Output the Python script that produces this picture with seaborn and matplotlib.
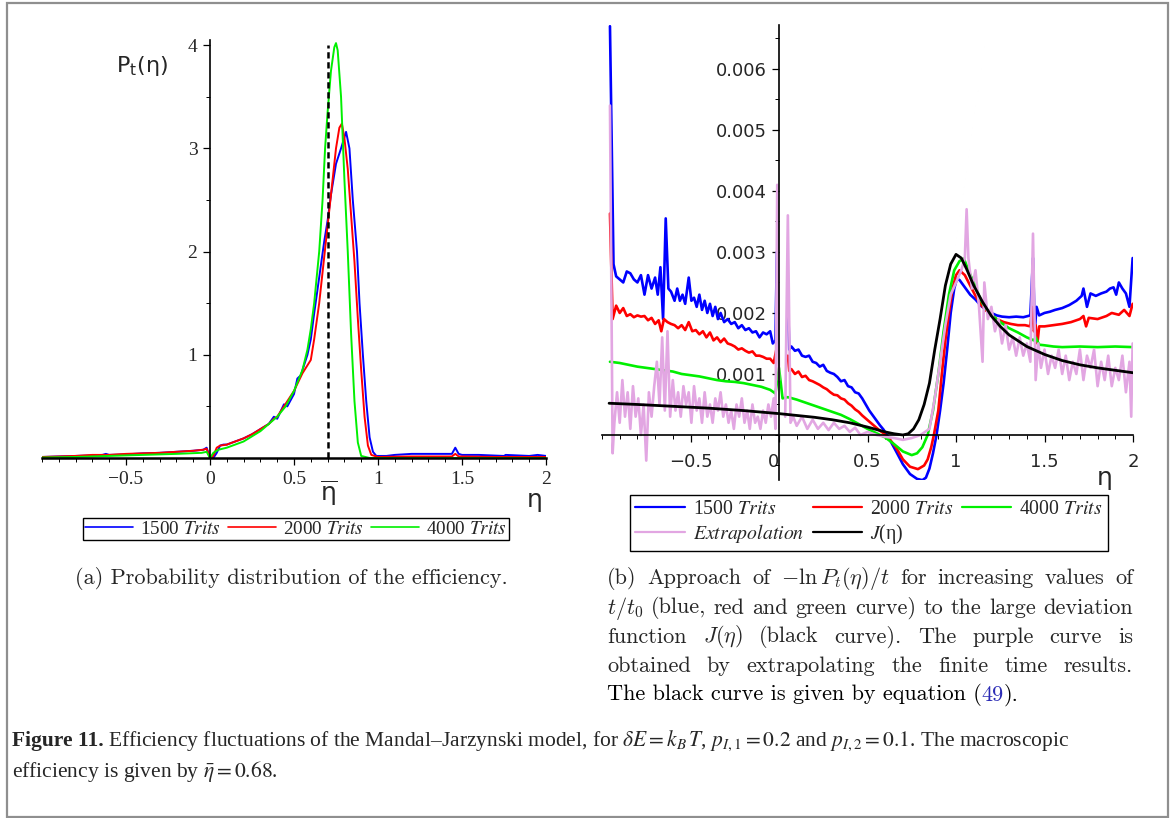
import numpy as np
import matplotlib
matplotlib.use("Agg")
import matplotlib.pyplot as plt
from matplotlib.lines import Line2D
from matplotlib.patches import Rectangle
from matplotlib.ticker import MultipleLocator
import seaborn as sns

# ---------------- data ----------------
eta_bar = 0.7          # dashed line position in panel (a)
eta_bar_top = 4.0

# panel (a): P_t(eta)
pa_blue_x = [-1.0, -0.9, -0.8, -0.7, -0.64, -0.62, -0.6, -0.5, -0.45, -0.4, -0.3, -0.2, -0.1,
             -0.04, -0.02, 0.0, 0.02, 0.04, 0.06, 0.08, 0.1, 0.15, 0.2, 0.25, 0.3, 0.35, 0.38,
             0.4, 0.42, 0.44, 0.46, 0.5, 0.52, 0.54, 0.56, 0.58, 0.6, 0.62, 0.65, 0.68, 0.7,
             0.72, 0.75, 0.78, 0.81, 0.83, 0.85, 0.875, 0.89, 0.91, 0.93, 0.95, 0.97, 0.99,
             1.05, 1.1, 1.2, 1.3, 1.44, 1.46, 1.48, 1.5, 1.6, 1.75, 1.76, 1.9, 1.95, 2.0]
pa_blue_y = [0.01, 0.015, 0.02, 0.025, 0.03, 0.04, 0.03, 0.035, 0.04, 0.045, 0.05, 0.06, 0.07,
             0.08, 0.1, 0.0, 0.0, 0.05, 0.12, 0.13, 0.13, 0.16, 0.19, 0.23, 0.28, 0.33, 0.4,
             0.38, 0.45, 0.52, 0.5, 0.62, 0.77, 0.8, 0.9, 1.0, 1.15, 1.4, 1.75, 2.1, 2.3,
             2.55, 2.85, 3.0, 3.16, 3.0, 2.5, 2.0, 1.5, 1.0, 0.55, 0.2, 0.06, 0.02,
             0.02, 0.03, 0.04, 0.04, 0.04, 0.1, 0.04, 0.03, 0.03, 0.02, 0.03, 0.02, 0.03, 0.02]

pa_red_x = [-1.0, -0.9, -0.8, -0.7, -0.6, -0.5, -0.4, -0.3, -0.2, -0.1, -0.04, -0.02, 0.0, 0.02,
            0.04, 0.06, 0.1, 0.15, 0.2, 0.25, 0.3, 0.35, 0.38, 0.4, 0.44, 0.5, 0.55, 0.6, 0.62,
            0.65, 0.68, 0.7, 0.73, 0.75, 0.77, 0.785, 0.8, 0.82, 0.84, 0.86, 0.88, 0.9, 0.92,
            0.94, 0.96, 1.0, 1.2, 1.44, 1.46, 1.48, 1.7, 2.0]
pa_red_y = [0.01, 0.015, 0.02, 0.03, 0.03, 0.04, 0.045, 0.05, 0.06, 0.07, 0.08, 0.09, 0.0, 0.02,
            0.1, 0.12, 0.13, 0.16, 0.19, 0.23, 0.28, 0.33, 0.38, 0.4, 0.5, 0.65, 0.82, 0.95, 1.15,
            1.5, 1.95, 2.25, 2.7, 3.0, 3.2, 3.24, 3.1, 2.8, 2.35, 1.9, 1.35, 0.85, 0.4,
            0.12, 0.03, 0.01, 0.015, 0.015, 0.04, 0.015, 0.01, 0.01]

pa_green_x = [-1.0, -0.8, -0.6, -0.4, -0.2, -0.05, -0.02, 0.0, 0.02, 0.05, 0.1, 0.2, 0.3, 0.4,
              0.45, 0.5, 0.55, 0.58, 0.6, 0.62, 0.65, 0.67, 0.685, 0.7, 0.72, 0.74, 0.75, 0.76,
              0.78, 0.8, 0.82, 0.84, 0.86, 0.88, 0.9, 0.95, 2.0]
pa_green_y = [0.005, 0.01, 0.02, 0.03, 0.04, 0.05, 0.06, 0.0, 0.05, 0.08, 0.1, 0.16, 0.26, 0.4,
              0.5, 0.65, 0.85, 1.05, 1.25, 1.5, 2.0, 2.5, 3.0, 3.35, 3.75, 3.98, 4.02, 3.95,
              3.5, 2.7, 2.0, 1.2, 0.55, 0.15, 0.02, 0.0, 0.0]

# panel (b): -ln P_t(eta)/t
pb_blue_x = [-0.955, -0.935, -0.92, -0.90, -0.88, -0.86, -0.84, -0.82, -0.80, -0.78,
             -0.76, -0.74, -0.72, -0.70, -0.685, -0.67, -0.655, -0.64, -0.625, -0.61,
             -0.59, -0.575, -0.56, -0.545, -0.53, -0.51, -0.495, -0.48, -0.465, -0.45,
             -0.435, -0.42, -0.405, -0.39, -0.375, -0.36, -0.345, -0.33, -0.31, -0.29,
             -0.27, -0.25, -0.23, -0.21, -0.19, -0.17, -0.15, -0.13, -0.11, -0.09,
             -0.07, -0.05, -0.035, -0.02, -0.012, 0.048, 0.058, 0.07, 0.09, 0.11,
             0.13, 0.15, 0.17, 0.19, 0.21, 0.23, 0.25, 0.27, 0.29, 0.31,
             0.33, 0.35, 0.37, 0.39, 0.41, 0.43, 0.45, 0.47, 0.49, 0.51,
             0.53, 0.55, 0.57, 0.59, 0.61, 0.63, 0.66, 0.70, 0.74, 0.78,
             0.81, 0.83, 0.85, 0.87, 0.89, 0.91, 0.93, 0.95, 0.97, 0.99,
             1.005, 1.02, 1.05, 1.08, 1.11, 1.14, 1.17, 1.20, 1.23, 1.26,
             1.30, 1.34, 1.38, 1.42, 1.435, 1.445, 1.455, 1.47, 1.50, 1.53,
             1.56, 1.60, 1.64, 1.68, 1.71, 1.72, 1.74, 1.76, 1.79, 1.82,
             1.85, 1.87, 1.89, 1.905, 1.92, 1.94, 1.96, 1.98, 1.998]
pb_blue_y = [0.0067, 0.0028, 0.0026, 0.00255, 0.0025, 0.00268, 0.00265, 0.00255, 0.0025, 0.00262,
             0.0023, 0.00262, 0.0024, 0.00258, 0.0023, 0.00275, 0.0019, 0.00355, 0.0024, 0.00235,
             0.0022, 0.0024, 0.0022, 0.0023, 0.00215, 0.00258, 0.0022, 0.00225, 0.0021, 0.0023,
             0.00205, 0.0022, 0.002, 0.00215, 0.00195, 0.0021, 0.0019, 0.002, 0.00185, 0.0019,
             0.00182, 0.00185, 0.00175, 0.0018, 0.00172, 0.00175, 0.00168, 0.0017, 0.0016, 0.00168,
             0.00165, 0.0017, 0.0015, 0.00155, 0.003, 0.0026, 0.0014, 0.00145, 0.00138, 0.0014,
             0.0013, 0.00128, 0.0013, 0.0012, 0.00118, 0.00112, 0.00115, 0.00105, 0.00102, 0.001,
             0.00095, 0.00088, 0.0009, 0.0008, 0.00078, 0.0007, 0.00068, 0.0006, 0.0005, 0.0004,
             0.00032, 0.00024, 0.00016, 0.00009, 0.0, -0.0001, -0.00026, -0.00048, -0.00064, -0.00072,
             -0.00074, -0.0007, -0.00055, -0.0003, 0.0, 0.0004, 0.00085, 0.0014, 0.002, 0.0024,
             0.00256, 0.00254, 0.00242, 0.0023, 0.00222, 0.00212, 0.00205, 0.002, 0.00196, 0.00194,
             0.00193, 0.00194, 0.00193, 0.00196, 0.0029, 0.0017, 0.0021, 0.00196, 0.002, 0.00202,
             0.00205, 0.00208, 0.00213, 0.0022, 0.00228, 0.0024, 0.0021, 0.00232, 0.00228, 0.00232,
             0.00235, 0.0024, 0.00242, 0.0023, 0.0025, 0.0024, 0.00232, 0.0021, 0.0029]

pb_red_x = [-0.955, -0.94, -0.92, -0.90, -0.88, -0.86, -0.84, -0.82, -0.80, -0.78,
            -0.76, -0.74, -0.72, -0.70, -0.68, -0.665, -0.65, -0.63, -0.61, -0.59,
            -0.57, -0.55, -0.53, -0.51, -0.49, -0.47, -0.45, -0.43, -0.41, -0.39,
            -0.37, -0.35, -0.33, -0.31, -0.29, -0.27, -0.25, -0.23, -0.21, -0.19,
            -0.17, -0.15, -0.13, -0.11, -0.09, -0.07, -0.05, -0.03, -0.015, 0.05,
            0.058, 0.07, 0.09, 0.11, 0.13, 0.15, 0.17, 0.19, 0.21, 0.23,
            0.25, 0.27, 0.29, 0.31, 0.33, 0.35, 0.37, 0.39, 0.41, 0.43,
            0.45, 0.47, 0.49, 0.51, 0.53, 0.55, 0.57, 0.59, 0.62, 0.66,
            0.70, 0.74, 0.785, 0.82, 0.84, 0.86, 0.875, 0.90, 0.92, 0.94,
            0.96, 0.98, 1.0, 1.02, 1.05, 1.08, 1.11, 1.14, 1.17, 1.20,
            1.23, 1.27, 1.31, 1.35, 1.39, 1.42, 1.43, 1.44, 1.45, 1.46,
            1.47, 1.50, 1.55, 1.60, 1.65, 1.70, 1.72, 1.735, 1.75, 1.80,
            1.85, 1.88, 1.92, 1.95, 1.98, 1.998]
pb_red_y = [0.00363, 0.0019, 0.00212, 0.002, 0.00208, 0.00195, 0.00198, 0.00193, 0.00196, 0.00194,
            0.00195, 0.00188, 0.00192, 0.00182, 0.00188, 0.0017, 0.0019, 0.00185, 0.00182, 0.0018,
            0.00175, 0.0018, 0.00172, 0.00185, 0.0017, 0.00172, 0.00165, 0.0017, 0.0016, 0.00168,
            0.00155, 0.0016, 0.00152, 0.00158, 0.0015, 0.00148, 0.00145, 0.0014, 0.00142, 0.00138,
            0.00135, 0.00137, 0.0013, 0.0013, 0.00128, 0.00125, 0.00125, 0.00118, 0.0014, 0.0013,
            0.00105, 0.00108, 0.001, 0.00104, 0.00095, 0.00097, 0.0009, 0.00088, 0.00085, 0.00082,
            0.00078, 0.00075, 0.0007, 0.00066, 0.00065, 0.0006, 0.00058, 0.00052, 0.00048, 0.00042,
            0.00038, 0.00032, 0.00027, 0.00022, 0.00017, 0.00012, 0.00007, 0.00003, -0.00005, -0.0002,
            -0.0004, -0.00052, -0.00056, -0.0005, -0.0004, -0.0002, 0.0, 0.0004, 0.001, 0.00155,
            0.002, 0.0024, 0.00262, 0.0027, 0.00262, 0.00245, 0.00228, 0.00214, 0.00204, 0.00196,
            0.0019, 0.00185, 0.00182, 0.0018, 0.0018, 0.00178, 0.0021, 0.0017, 0.0018, 0.0015,
            0.00178, 0.00178, 0.0018, 0.00182, 0.00185, 0.0019, 0.00195, 0.00178, 0.00192, 0.0019,
            0.00195, 0.002, 0.00197, 0.00205, 0.00195, 0.00215]

pb_green_x = [-0.955, -0.9, -0.85, -0.8, -0.75, -0.7, -0.65, -0.6, -0.55, -0.5,
              -0.45, -0.4, -0.35, -0.3, -0.25, -0.2, -0.15, -0.1, -0.05, -0.02,
              0.0, 0.02, 0.05, 0.1, 0.15, 0.2, 0.25, 0.3, 0.35, 0.4,
              0.45, 0.5, 0.55, 0.6, 0.65, 0.7, 0.75, 0.78, 0.81, 0.84,
              0.87, 0.9, 0.93, 0.96, 0.99, 1.02, 1.045, 1.07, 1.1, 1.13,
              1.16, 1.2, 1.25, 1.3, 1.35, 1.4, 1.44, 1.45, 1.47, 1.5,
              1.55, 1.6, 1.7, 1.8, 1.9, 2.0]
pb_green_y = [0.0012, 0.00118, 0.00115, 0.00112, 0.0011, 0.00108, 0.00106, 0.00104, 0.001, 0.00098,
              0.00096, 0.00093, 0.0009, 0.00088, 0.00087, 0.00085, 0.00082, 0.00079, 0.00074, 0.00068,
              0.0011, 0.0006, 0.00062, 0.00058, 0.00053, 0.00048, 0.00043, 0.00038, 0.00033, 0.00026,
              0.00018, 0.0001, 0.00003, -0.00004, -0.00015, -0.00027, -0.00033, -0.0003, -0.0002, 0.0,
              0.0004, 0.001, 0.0017, 0.0023, 0.0027, 0.00285, 0.00289, 0.0027, 0.0025, 0.00228,
              0.0021, 0.00197, 0.00185, 0.00175, 0.00168, 0.0016, 0.00155, 0.0016, 0.00148, 0.00147,
              0.00145, 0.00144, 0.00145, 0.00144, 0.00145, 0.00144]

pb_extra_x = [-0.955, -0.94, -0.93, -0.915, -0.9, -0.885, -0.87, -0.855, -0.84, -0.825,
              -0.81, -0.795, -0.78, -0.765, -0.75, -0.735, -0.72, -0.705, -0.69, -0.675,
              -0.66, -0.645, -0.63, -0.615, -0.6, -0.585, -0.57, -0.555, -0.54, -0.525,
              -0.51, -0.495, -0.48, -0.465, -0.45, -0.435, -0.42, -0.405, -0.39, -0.375,
              -0.36, -0.345, -0.33, -0.315, -0.3, -0.285, -0.27, -0.255, -0.24, -0.225,
              -0.21, -0.195, -0.18, -0.165, -0.15, -0.135, -0.12, -0.105, -0.09, -0.075,
              -0.06, -0.045, -0.03, -0.02, -0.01, 0.0, 0.035, 0.05, 0.065, 0.08,
              0.1, 0.13, 0.16, 0.19, 0.22, 0.25, 0.28, 0.31, 0.34, 0.37,
              0.4, 0.43, 0.46, 0.5, 0.55, 0.6, 0.65, 0.7, 0.75, 0.8,
              0.85, 0.88, 0.91, 0.94, 0.97, 1.0, 1.03, 1.05, 1.06, 1.07,
              1.09, 1.11, 1.13, 1.15, 1.16, 1.18, 1.2, 1.22, 1.24, 1.26,
              1.28, 1.3, 1.32, 1.34, 1.36, 1.38, 1.4, 1.42, 1.435, 1.45,
              1.465, 1.48, 1.5, 1.52, 1.54, 1.56, 1.58, 1.6, 1.62, 1.64,
              1.66, 1.68, 1.7, 1.72, 1.74, 1.76, 1.78, 1.8, 1.82, 1.84,
              1.86, 1.88, 1.9, 1.92, 1.94, 1.96, 1.98, 1.99, 1.998]
pb_extra_y = [0.0054, -0.0003, 0.0002, 0.0007, 0.0002, 0.0009, 0.0003, 0.0007, 0.0001, 0.0008,
              0.0003, 0.0006, 0.0, 0.0005, -0.00042, 0.0007, 0.0003, 0.0008, 0.0012, 0.0005,
              0.0016, 0.0004, 0.0017, 0.0003, 0.0009, 0.0004, 0.0007, 0.0003, 0.0008, 0.0005,
              0.0007, 0.0002, 0.0008, 0.0004, 0.0006, 0.0002, 0.0007, 0.0003, 0.0005, 0.0002,
              0.0006, 0.0004, 0.0007, 0.0003, 0.0005, 0.0002, 0.0004, 0.0001, 0.0005, 0.0003,
              0.0006, 0.0002, 0.0004, 0.0001, 0.0005, 0.0002, 0.0003, 0.0001, 0.0004, 0.0002,
              0.0005, 0.0003, 0.0006, 0.0001, 0.0041, 0.0009, 0.0003, 0.0036, 0.0002, 0.0003,
              0.00015, 0.0003, 0.0001, 0.00025, 0.0001, 0.0002, 0.00008, 0.0002, 0.0001, 0.00015,
              0.00005, 0.00012, 0.0, 0.00005, 0.0, -0.00003, -0.00005, -0.00008, -0.00005, 0.0,
              0.0001, 0.0006, 0.0012, 0.0018, 0.0023, 0.0025, 0.0027, 0.0029, 0.0037, 0.0029,
              0.0024, 0.0027, 0.0021, 0.0012, 0.0025, 0.0019, 0.0021, 0.0017, 0.0019, 0.0015,
              0.0018, 0.0014, 0.0016, 0.0013, 0.0016, 0.0013, 0.0015, 0.0012, 0.0033, 0.0009,
              0.0015, 0.0011, 0.0014, 0.001, 0.0013, 0.0011, 0.0014, 0.001, 0.0013, 0.0009,
              0.0012, 0.001, 0.0014, 0.0009, 0.0013, 0.0011, 0.0014, 0.0008, 0.0012, 0.0009,
              0.0013, 0.0008, 0.0011, 0.0009, 0.0013, 0.0007, 0.0012, 0.0003, 0.0015]

pb_J_x = [-0.96, -0.8, -0.6, -0.4, -0.2, 0.0, 0.1, 0.2, 0.3, 0.4,
          0.5, 0.55, 0.6, 0.65, 0.7, 0.73, 0.76, 0.79, 0.82, 0.85,
          0.88, 0.91, 0.94, 0.97, 1.0, 1.03, 1.06, 1.1, 1.15, 1.2,
          1.25, 1.3, 1.4, 1.5, 1.6, 1.7, 1.8, 1.9, 2.0]
pb_J_y = [0.00052, 0.0005, 0.00047, 0.00044, 0.0004, 0.00035, 0.00032, 0.00029, 0.00025, 0.0002,
          0.00013, 0.00009, 0.00005, 0.00002, 0.0, 0.00002, 0.0001, 0.00025, 0.0005, 0.00085,
          0.0014, 0.0019, 0.00245, 0.0028, 0.00296, 0.0029, 0.00272, 0.00245, 0.00218, 0.00195,
          0.00178, 0.00164, 0.00145, 0.00132, 0.00122, 0.00115, 0.0011, 0.00106, 0.00102]

series_names = ["1500 $\\mathit{Trits}$", "2000 $\\mathit{Trits}$", "4000 $\\mathit{Trits}$"]
extra_name = "$\\mathit{Extrapolation}$"
J_name = "$J$(η)"

xticks = [-0.5, 0, 0.5, 1, 1.5, 2]
xtick_labels = ["\u22120.5", "0", "0.5", "1", "1.5", "2"]
pa_yticks = [1, 2, 3, 4]
pb_yticks = [0.001, 0.002, 0.003, 0.004, 0.005, 0.006]
pb_ytick_labels = ["0.001", "0.002", "0.003", "0.004", "0.005", "0.006"]

BLUE, RED, GREEN, PINK = "#0000ff", "#ff0000", "#00f000", "#e2a6e2"

# ---------------- figure ----------------
sns.set_theme(style="white")
plt.rcParams["font.family"] = ["Liberation Serif", "DejaVu Serif"]
plt.rcParams["mathtext.fontset"] = "stix"

W, H = 1171, 818
fig = plt.figure(figsize=(W / 100, H / 100), dpi=100)
fig.patch.set_facecolor("white")


def box(x0, y0, x1, y1):
    # pixel box (top-left origin) -> figure fraction rect
    return [x0 / W, 1 - y1 / H, (x1 - x0) / W, (y1 - y0) / H]


def maple_axes(ax):
    for s in ("top", "right"):
        ax.spines[s].set_visible(False)
    ax.spines["left"].set_position(("data", 0))
    ax.spines["bottom"].set_position(("data", 0))
    for s in ("left", "bottom"):
        ax.spines[s].set_color("black")
        ax.spines[s].set_linewidth(1.2)
    ax.set_facecolor("none")
    ax.set_axisbelow(True)
    ax.tick_params(which="both", direction="out", color="black", bottom=True, left=True)
    ax.tick_params(which="major", length=5, width=0.9)
    ax.tick_params(which="minor", length=3, width=0.7)
    ax.set_xlabel("")
    ax.set_ylabel("")


def draw(ax, xs, ys, color, lw, split=None):
    xs = np.asarray(xs)
    ys = np.asarray(ys)
    assert len(xs) == len(ys)
    parts = [np.ones(len(xs), bool)] if split is None else [xs < split, xs >= split]
    for m in parts:
        sns.lineplot(x=xs[m], y=ys[m], ax=ax, color=color, linewidth=lw,
                     estimator=None, sort=False, legend=False)


# ---- panel (a)
ax1 = fig.add_axes(box(42, 40, 546, 458))
draw(ax1, pa_blue_x, pa_blue_y, BLUE, 1.4)
draw(ax1, pa_red_x, pa_red_y, RED, 1.4)
draw(ax1, pa_green_x, pa_green_y, GREEN, 1.4)
ax1.vlines(eta_bar, 0, eta_bar_top, colors="black", linestyles=(0, (2.5, 1.5)), linewidth=1.8)
ax1.set_xlim(-1, 2)
ax1.set_ylim(0, 4.05)
maple_axes(ax1)
ax1.spines["bottom"].set_linewidth(1.8)
ax1.set_xticks(xticks, xtick_labels)
ax1.set_yticks(pa_yticks, [str(v) for v in pa_yticks])
ax1.xaxis.set_minor_locator(MultipleLocator(0.1))
ax1.yaxis.set_minor_locator(MultipleLocator(0.5))
ax1.tick_params(axis="both", which="major", labelsize=14, pad=4)
for t in ax1.get_xticklabels() + ax1.get_yticklabels():
    t.set_fontfamily("Liberation Serif")

fig.text(142 / W, 1 - 66 / H, "P$_{\\mathsf{t}}$(η)", fontsize=16, family="DejaVu Sans",
         math_fontfamily="dejavusans", ha="center", va="center")
fig.text(329 / W, 1 - 493 / H, "$\\overline{\\mathrm{\\eta}}$", fontsize=18,
         math_fontfamily="dejavusans", ha="center", va="center")
fig.text(535 / W, 1 - 500 / H, "η", fontsize=18, family="DejaVu Sans", ha="center", va="center")

leg_a = [Line2D([], [], color=c, lw=1.2) for c in (BLUE, RED, GREEN)]
fig.legend(leg_a, series_names, loc="center", bbox_to_anchor=(296 / W, 1 - 529 / H),
           bbox_transform=fig.transFigure, ncol=3, fontsize=13.8, frameon=True, fancybox=False,
           edgecolor="black", framealpha=1, borderpad=0.1, handlelength=2.5,
           handletextpad=0.4, columnspacing=0.35, borderaxespad=0)

# ---- panel (b)
ax2 = fig.add_axes(box(602, 25, 1133, 480))
draw(ax2, pb_blue_x, pb_blue_y, BLUE, 1.9, split=0.02)
draw(ax2, pb_red_x, pb_red_y, RED, 1.9, split=0.02)
draw(ax2, pb_green_x, pb_green_y, GREEN, 1.9)
draw(ax2, pb_extra_x, pb_extra_y, PINK, 1.9, split=0.02)
draw(ax2, pb_J_x, pb_J_y, "black", 2.0)
ax2.set_xlim(-1, 2)
ax2.set_ylim(-0.000738, 0.00672)
maple_axes(ax2)
ax2.set_xticks(xticks, xtick_labels)
ax2.set_yticks(pb_yticks, pb_ytick_labels)
ax2.xaxis.set_minor_locator(MultipleLocator(0.1))
ax2.yaxis.set_minor_locator(MultipleLocator(0.0005))
ax2.tick_params(axis="both", which="major", labelsize=13, pad=4)
ax2.tick_params(axis="x", which="major", pad=8)
for t in ax2.get_xticklabels() + ax2.get_yticklabels():
    t.set_fontfamily("DejaVu Sans")
ax2.get_xticklabels()[1].set_horizontalalignment("right")

fig.text(1105 / W, 1 - 478 / H, "η", fontsize=18, family="DejaVu Sans", ha="center", va="center")

leg_b = [Line2D([], [], color=BLUE, lw=1.6), Line2D([], [], color=PINK, lw=1.6),
         Line2D([], [], color=RED, lw=1.6), Line2D([], [], color="black", lw=1.6),
         Line2D([], [], color=GREEN, lw=1.6)]
leg_b_names = [series_names[0], extra_name, series_names[1], J_name, series_names[2]]
fig.legend(leg_b, leg_b_names, loc="center", bbox_to_anchor=(869 / W, 1 - 523 / H),
           bbox_transform=fig.transFigure, ncol=3, fontsize=14.2, frameon=True, fancybox=False,
           edgecolor="black", framealpha=1, borderpad=0.25, handlelength=2.5,
           handletextpad=0.4, columnspacing=0.45, borderaxespad=0, labelspacing=0.15)

# ---- sub-captions (LaTeX look)
cm = dict(family="cmr10", math_fontfamily="cm", fontsize=16)
fig.text(291 / W, 1 - 578 / H, "(a) Probability distribution of the efficiency.",
         ha="center", va="center", **cm)

b_lines = [
    ["(b)", "Approach", "of", r"$-\ln P_t(\eta)/t$", "for", "increasing", "values", "of"],
    [r"$t/t_0$", "(blue,", "red", "and", "green", "curve)", "to", "the", "large", "deviation"],
    ["function", r"$J(\eta)$", "(black", "curve).", "The", "purple", "curve", "is"],
    ["obtained", "by", "extrapolating", "the", "finite", "time", "results."],
]
b_y = [578, 608, 637, 666, 695]
bx0, bx1 = 607, 1133

renderer = fig.canvas.get_renderer()
for words, yy in zip(b_lines, b_y):
    ts = [fig.text(0, 1 - yy / H, w, ha="left", va="center", **cm) for w in words]
    widths = [t.get_window_extent(renderer).width for t in ts]
    gap = (bx1 - bx0 - sum(widths)) / (len(ts) - 1)
    x = bx0
    for t, wd in zip(ts, widths):
        t.set_x(x / W)
        x += wd + gap

last = [("The black curve is given by equation (", "black"), ("49", "#2b2bb5"), (").", "black")]
x = bx0
for s, c in last:
    t = fig.text(x / W, 1 - b_y[-1] / H, s, ha="left", va="center", color=c, **cm)
    x += t.get_window_extent(renderer).width

# ---- figure caption
cap = dict(family="Liberation Serif", math_fontfamily="stix", fontsize=15.5)
tb = fig.text(12 / W, 1 - 741 / H, "Figure 11.", ha="left", va="center", weight="bold", **cap)
wb = tb.get_window_extent(renderer).width
fig.text((12 + wb + 4) / W, 1 - 741 / H,
         r"Efficiency fluctuations of the Mandal–Jarzynski model, for $\delta E = k_B\,T$, "
         r"$p_{I,1} = 0.2$ and $p_{I,2} = 0.1$. The macroscopic",
         ha="left", va="center", **cap)
fig.text(12 / W, 1 - 772 / H, r"efficiency is given by $\bar{\eta} = 0.68$.",
         ha="left", va="center", **cap)

fig.add_artist(Rectangle((7 / W, 1 - 817 / H), (1168 - 7) / W, (817 - 3) / H,
                         transform=fig.transFigure, fill=False, edgecolor="#8f8f8f", lw=1.6))

fig.savefig("out.png", dpi=100, facecolor="white")
